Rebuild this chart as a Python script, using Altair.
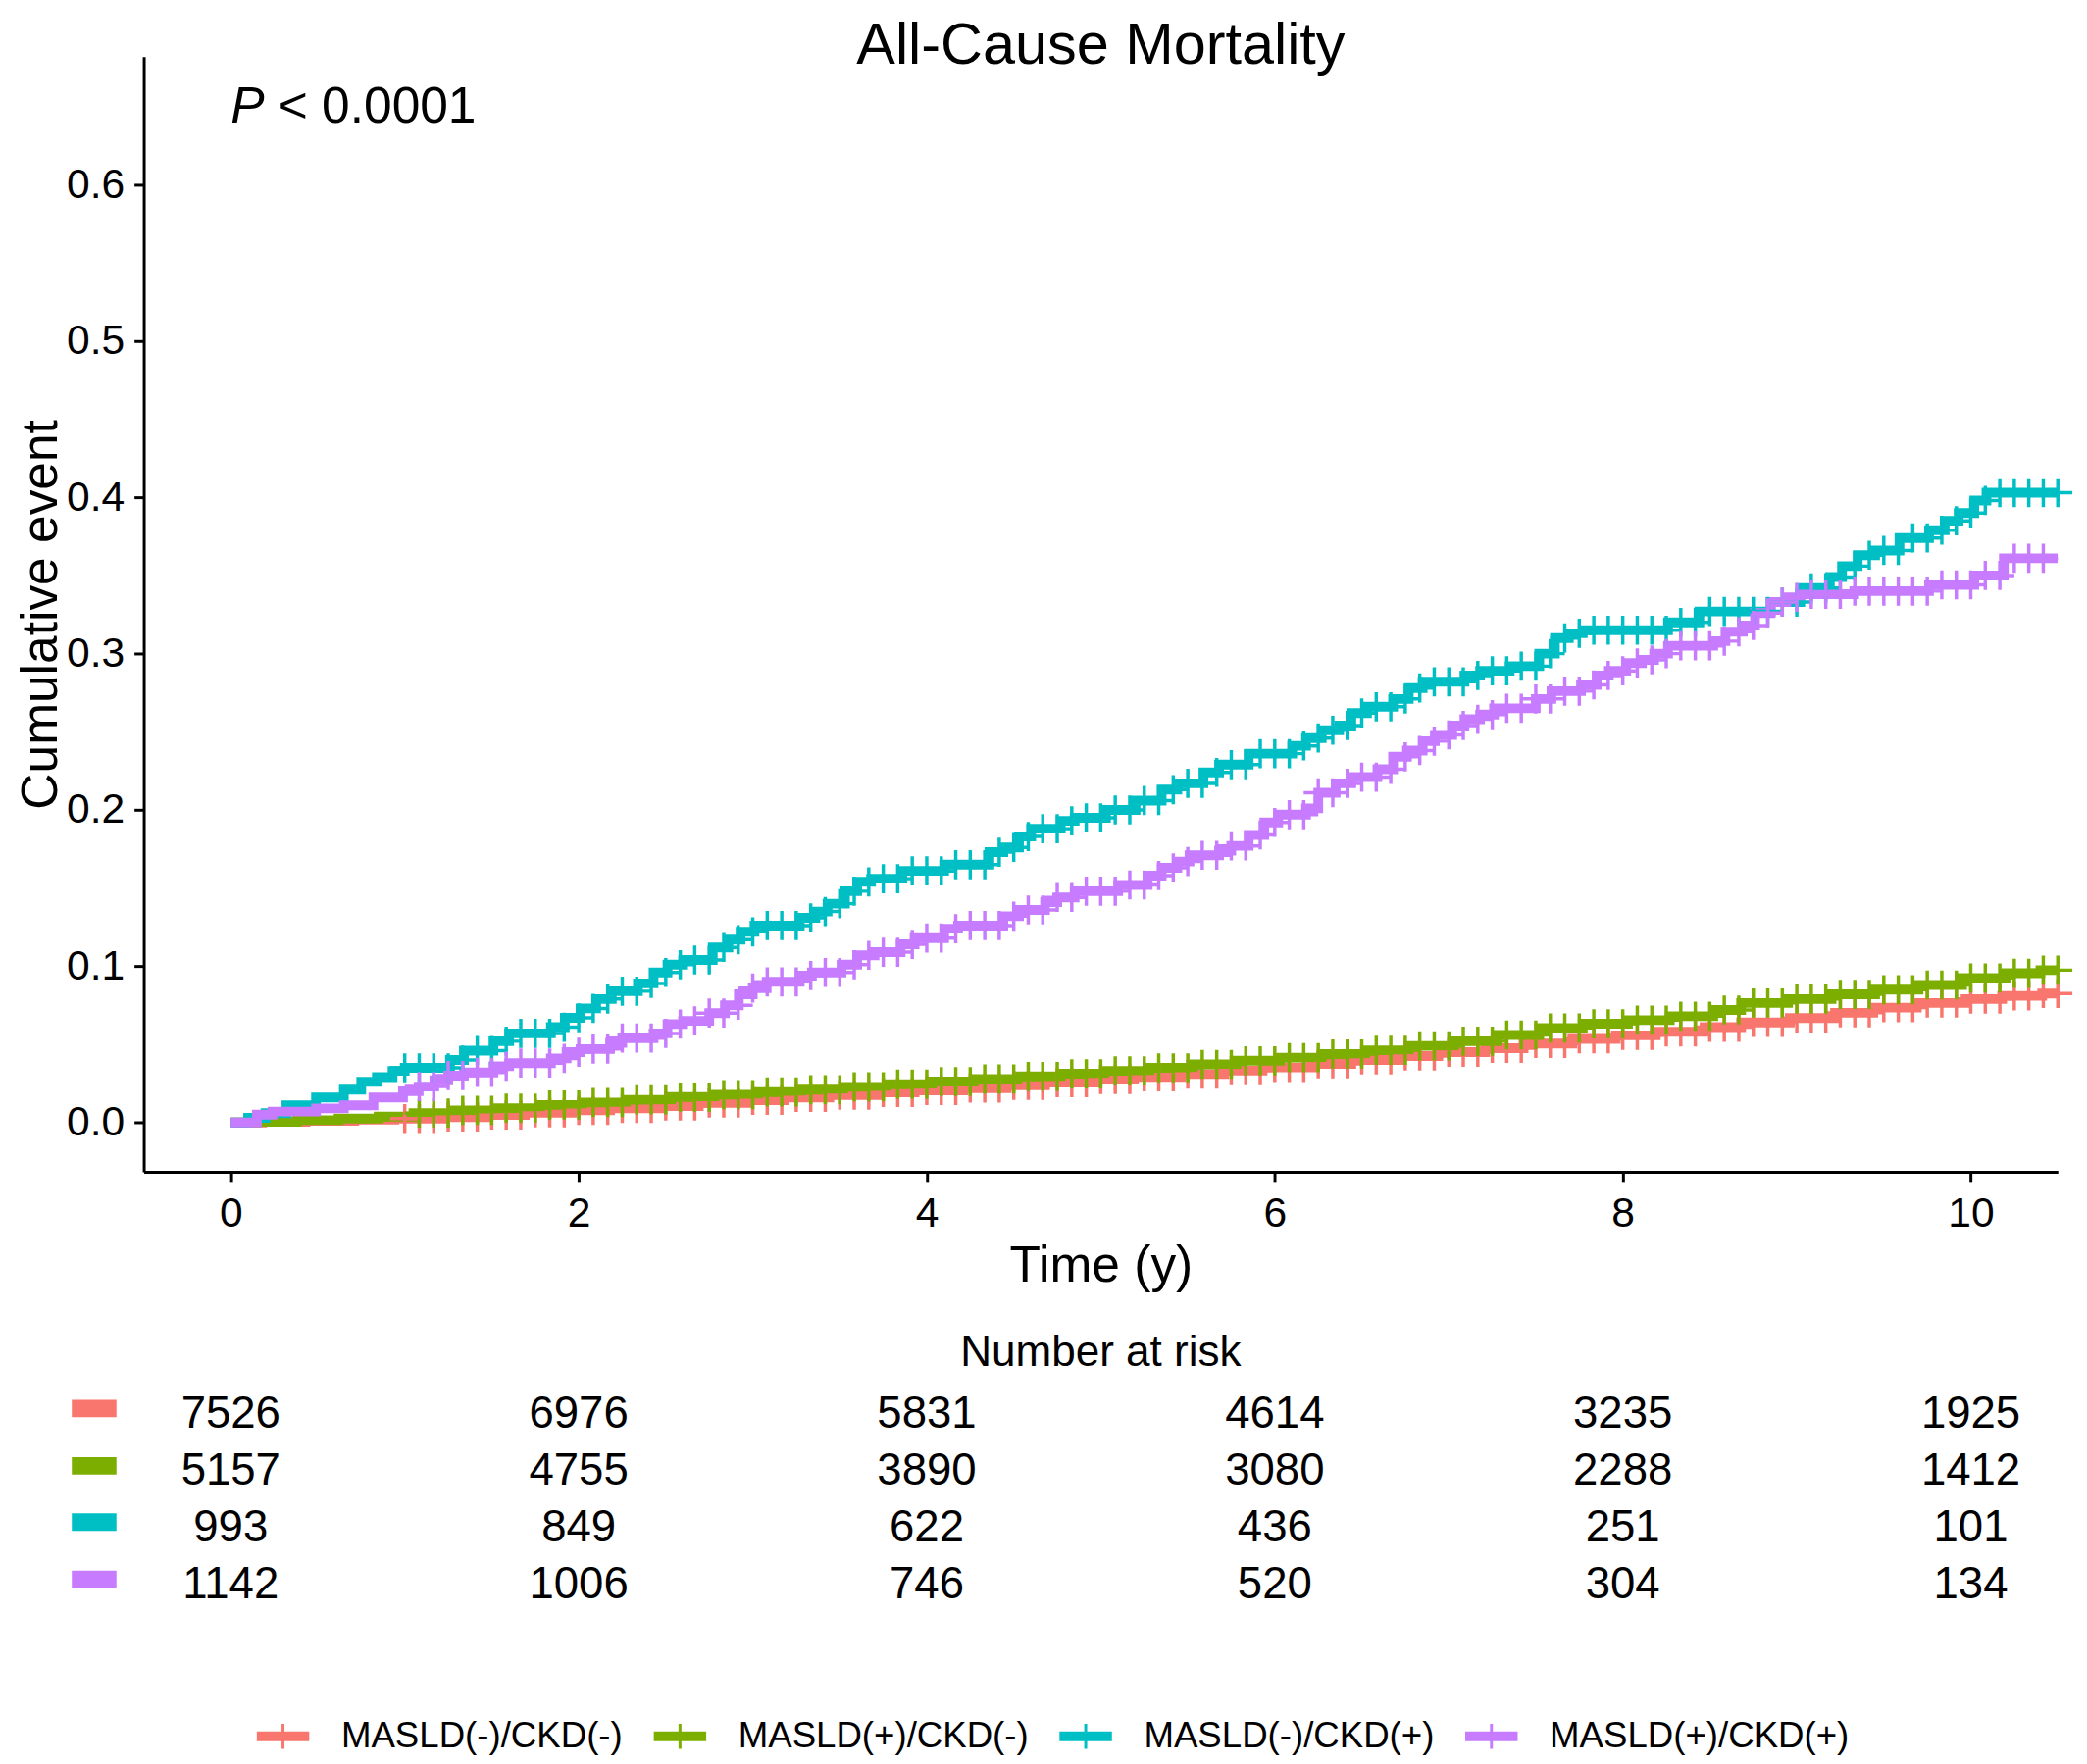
import altair as alt
import numpy as np
import pandas as pd

FONT = "Liberation Sans"

GROUPS = ["MASLD(-)/CKD(-)", "MASLD(+)/CKD(-)", "MASLD(-)/CKD(+)", "MASLD(+)/CKD(+)"]
COLORS = ["#F8766D", "#7CAE00", "#00BFC4", "#C77CFF"]

# ---- step curves (time in years, cumulative event) ----
T_NN = [0.0, 0.18, 0.43, 0.71, 0.94, 1.22, 1.47, 1.69, 1.96, 2.18, 2.47, 2.69, 2.97, 3.18, 3.44,
        3.72, 3.93, 4.21, 4.46, 4.68, 4.97, 5.19, 5.46, 5.71, 5.93, 6.22, 6.44, 6.72, 6.94, 7.21,
        7.43, 7.71, 7.96, 8.19, 8.47, 8.68, 8.96, 9.22, 9.44, 9.69, 9.97, 10.18, 10.41, 10.5]
V_NN = [0.0, 0.0005, 0.001, 0.0018, 0.0025, 0.0035, 0.0048, 0.0062, 0.0078, 0.009, 0.0105, 0.0125,
        0.0142, 0.016, 0.0175, 0.0192, 0.0205, 0.022, 0.0238, 0.0255, 0.0275, 0.0292, 0.031, 0.0332,
        0.0352, 0.0375, 0.040, 0.0425, 0.045, 0.0475, 0.0505, 0.0535, 0.0558, 0.058, 0.061, 0.064,
        0.0668, 0.0702, 0.0735, 0.0765, 0.079, 0.081, 0.0825, 0.0825]

T_PN = [0.0, 0.15, 0.38, 0.62, 0.85, 1.05, 1.27, 1.52, 1.78, 2.02, 2.27, 2.53, 2.78, 3.03, 3.28,
        3.52, 3.77, 4.03, 4.27, 4.52, 4.77, 5.02, 5.28, 5.53, 5.78, 6.03, 6.27, 6.52, 6.77, 7.03,
        7.28, 7.52, 7.77, 8.03, 8.27, 8.52, 8.68, 8.95, 9.2, 9.45, 9.7, 9.95, 10.2, 10.4, 10.5]
V_PN = [0.0, 0.0005, 0.0015, 0.0025, 0.0038, 0.006, 0.0078, 0.0092, 0.0112, 0.0128, 0.0145, 0.0163,
        0.0178, 0.0195, 0.021, 0.0228, 0.0245, 0.0262, 0.0278, 0.0295, 0.0312, 0.033, 0.035, 0.0372,
        0.0395, 0.0415, 0.0438, 0.0462, 0.049, 0.052, 0.056, 0.0605, 0.0632, 0.0655, 0.068, 0.072,
        0.0765, 0.079, 0.082, 0.085, 0.088, 0.0925, 0.0955, 0.0975, 0.0975]

T_NP = [0.0, 0.1, 0.2, 0.32, 0.49, 0.65, 0.75, 0.84, 0.93, 1.0, 1.26, 1.34, 1.51, 1.6, 1.84, 1.92,
        2.01, 2.10, 2.19, 2.34, 2.43, 2.51, 2.60, 2.77, 2.86, 2.93, 3.01, 3.27, 3.36, 3.43, 3.53,
        3.60, 3.68, 3.86, 4.10, 4.36, 4.44, 4.53, 4.60, 4.77, 4.85, 5.03, 5.2, 5.35, 5.44, 5.59,
        5.68, 5.85, 6.10, 6.18, 6.27, 6.37, 6.44, 6.53, 6.68, 6.77, 6.85, 7.09, 7.18, 7.35, 7.52,
        7.61, 7.69, 7.77, 8.26, 8.44, 8.85, 9.02, 9.19, 9.26, 9.35, 9.45, 9.59, 9.76, 9.85, 9.93,
        10.02, 10.09, 10.5]
V_NP = [0.0, 0.003, 0.006, 0.011, 0.016, 0.021, 0.026, 0.029, 0.033, 0.035, 0.040, 0.046, 0.052,
        0.057, 0.061, 0.067, 0.073, 0.079, 0.084, 0.089, 0.096, 0.101, 0.104, 0.112, 0.117, 0.122,
        0.126, 0.131, 0.135, 0.140, 0.148, 0.154, 0.156, 0.161, 0.165, 0.173, 0.176, 0.183, 0.188,
        0.193, 0.195, 0.200, 0.206, 0.213, 0.217, 0.224, 0.229, 0.236, 0.241, 0.246, 0.251, 0.254,
        0.262, 0.266, 0.271, 0.278, 0.282, 0.286, 0.289, 0.292, 0.300, 0.310, 0.313, 0.315, 0.320,
        0.327, 0.333, 0.342, 0.349, 0.356, 0.363, 0.366, 0.374, 0.379, 0.385, 0.390, 0.398, 0.403,
        0.403]

T_PP = [0.0, 0.15, 0.24, 0.49, 0.65, 0.82, 0.99, 1.08, 1.17, 1.25, 1.34, 1.51, 1.6, 1.84, 1.93,
        2.01, 2.18, 2.25, 2.43, 2.51, 2.60, 2.75, 2.84, 2.92, 3.0, 3.08, 3.27, 3.34, 3.51, 3.60,
        3.70, 3.85, 3.93, 4.10, 4.18, 4.44, 4.53, 4.68, 4.75, 4.85, 5.10, 5.27, 5.35, 5.44, 5.51,
        5.68, 5.75, 5.85, 5.94, 6.02, 6.18, 6.25, 6.35, 6.44, 6.59, 6.68, 6.76, 6.85, 6.92, 7.02,
        7.09, 7.18, 7.26, 7.50, 7.59, 7.76, 7.85, 7.92, 8.02, 8.11, 8.18, 8.26, 8.52, 8.59, 8.69,
        8.76, 8.85, 8.94, 9.02, 9.33, 9.76, 10.02, 10.19, 10.5]
V_PP = [0.0, 0.005, 0.007, 0.009, 0.011, 0.016, 0.020, 0.023, 0.027, 0.030, 0.032, 0.036, 0.038,
        0.041, 0.045, 0.047, 0.051, 0.054, 0.057, 0.063, 0.065, 0.070, 0.075, 0.082, 0.086, 0.090,
        0.094, 0.096, 0.101, 0.107, 0.109, 0.114, 0.118, 0.124, 0.126, 0.132, 0.136, 0.141, 0.144,
        0.148, 0.152, 0.158, 0.163, 0.167, 0.171, 0.174, 0.177, 0.184, 0.192, 0.197, 0.201, 0.211,
        0.217, 0.221, 0.226, 0.234, 0.238, 0.244, 0.248, 0.254, 0.258, 0.261, 0.265, 0.271, 0.276,
        0.280, 0.286, 0.289, 0.294, 0.296, 0.300, 0.305, 0.308, 0.314, 0.318, 0.326, 0.333, 0.336,
        0.338, 0.340, 0.344, 0.350, 0.361, 0.361]

# censoring marks: months at which "+" marks appear
CENSOR_MONTHS = [12, 13, 14, 15, 16, 17, 18, 19, 20, 21, 22, 23, 24, 25, 26, 27, 28, 29, 30, 31,
                 32, 33, 34, 35, 36, 37, 38, 39, 40, 41, 42, 43, 44, 45, 46, 47, 48, 49, 50, 51,
                 52, 53, 54, 55, 56, 57, 58, 59, 60, 61, 62, 63, 64, 65, 66, 67, 68, 69, 70, 71,
                 72, 73, 74, 75, 76, 77, 78, 79, 80, 81, 82, 83, 84, 85, 86, 87, 88, 89, 90, 91,
                 92, 93, 94, 95, 96, 97, 98, 99, 100, 101, 102, 103, 104, 105, 106, 107, 108, 109,
                 110, 111, 112, 113, 114, 115, 116, 117, 118, 119, 120, 121, 122, 123, 124, 125, 126]
CENSOR_FIRST = [12, 13, 12, 13]
CENSOR_LAST = [126, 126, 126, 125]

# number at risk table
RISK_TIMES = [0, 2, 4, 6, 8, 10]
RISK_NN = [7526, 6976, 5831, 4614, 3235, 1925]
RISK_PN = [5157, 4755, 3890, 3080, 2288, 1412]
RISK_NP = [993, 849, 622, 436, 251, 101]
RISK_PP = [1142, 1006, 746, 520, 304, 134]

X_TICKS = [0, 2, 4, 6, 8, 10]
Y_TICKS = [0.0, 0.1, 0.2, 0.3, 0.4, 0.5, 0.6]

# ---- build tables ----
curves = [(T_NN, V_NN), (T_PN, V_PN), (T_NP, V_NP), (T_PP, V_PP)]
rows, crow = [], []
for g, (T, V), lo, hi in zip(GROUPS, curves, CENSOR_FIRST, CENSOR_LAST):
    for t, v in zip(T, V):
        rows.append({"group": g, "time": t, "cum": v})
    Ta = np.array(T)
    for m in CENSOR_MONTHS:
        if lo <= m <= hi:
            t = m / 12.0
            idx = int(np.searchsorted(Ta, t, side="right") - 1)
            crow.append({"group": g, "time": t, "cum": V[idx]})
curve_df = pd.DataFrame(rows)
censor_df = pd.DataFrame(crow)

risk_rows = []
for g, counts in zip(GROUPS, [RISK_NN, RISK_PN, RISK_NP, RISK_PP]):
    for t, n in zip(RISK_TIMES, counts):
        risk_rows.append({"group": g, "time": t, "n": str(n)})
risk_df = pd.DataFrame(risk_rows)

pval_df = pd.DataFrame({"time": [0.0], "cum": [0.65], "p": ["P"], "rest": ["< 0.0001"]})

# ---- scales / encodings ----
W = 1972
x_scale = alt.Scale(domain=[-0.5, 10.5], nice=False, zero=False)
y_scale = alt.Scale(domain=[-0.0315, 0.682], nice=False, zero=False)

x_enc = alt.X("time:Q", scale=x_scale,
              axis=alt.Axis(values=X_TICKS, title="Time (y)", grid=False,
                            labelFontSize=43, labelFont=FONT, labelColor="black",
                            labelPadding=12, tickSize=10, tickWidth=3, tickColor="black",
                            domainWidth=3, domainColor="black",
                            titleFontSize=52, titleFont=FONT, titleFontWeight="normal",
                            titleColor="black", titlePadding=7, labelFlush=False))
y_enc = alt.Y("cum:Q", scale=y_scale,
              axis=alt.Axis(values=Y_TICKS, format=".1f", title="Cumulative event", grid=False,
                            labelFontSize=43, labelFont=FONT, labelColor="black",
                            labelPadding=10, tickSize=10, tickWidth=3, tickColor="black",
                            domainWidth=3, domainColor="black",
                            titleFontSize=52, titleFont=FONT, titleFontWeight="normal",
                            titleColor="black", titlePadding=-1, labelFlush=False))

LEGEND_PATH = ("M-2,-0.26L2,-0.26M-2,-0.13L2,-0.13M-2,0L2,0M-2,0.13L2,0.13M-2,0.26L2,0.26"
               "M0,-0.96L0,0.96")
color_enc = alt.Color("group:N", scale=alt.Scale(domain=GROUPS, range=COLORS),
                      legend=alt.Legend(title=None, orient="none", legendX=125, legendY=1712,
                                        direction="horizontal", columns=4,
                                        symbolType=LEGEND_PATH, symbolSize=729,
                                        symbolStrokeWidth=3, symbolOpacity=1,
                                        labelFontSize=37, labelFont=FONT, labelColor="black",
                                        labelOffset=41.5, columnPadding=25, labelLimit=800,
                                        padding=0))

lines = alt.Chart(curve_df).mark_line(interpolate="step-after", strokeWidth=10, clip=True).encode(
    x=x_enc, y=y_enc, color=color_enc)

censor = alt.Chart(censor_df).mark_point(shape="M-1,0L1,0M0,-1L0,1", size=900, filled=False,
                                         strokeWidth=3.5, opacity=1).encode(
    x=x_enc, y=y_enc, color=color_enc)

p_italic = alt.Chart(pval_df).mark_text(align="left", baseline="middle", fontSize=52,
                                        fontStyle="italic", font=FONT, color="black").encode(
    x=x_enc, y=y_enc, text="p:N")
p_rest = alt.Chart(pval_df).mark_text(align="left", baseline="middle", fontSize=52, dx=49,
                                      font=FONT, color="black").encode(
    x=x_enc, y=y_enc, text="rest:N")

main = alt.layer(lines, censor, p_italic, p_rest).properties(
    width=W, height=1149,
    title=alt.TitleParams("All-Cause Mortality", fontSize=60, font=FONT, fontWeight="normal",
                          color="black", anchor="middle", frame="group",
                          baseline="alphabetic", offset=-67))

tick_cond = {"condition": [{"test": "datum.value === '%s'" % g, "value": c}
                           for g, c in zip(GROUPS, COLORS)],
             "value": "black"}

risk = alt.Chart(risk_df).mark_text(fontSize=46, baseline="middle", align="center",
                                    font=FONT, color="black").encode(
    x=alt.X("time:Q", scale=x_scale, axis=None),
    y=alt.Y("group:N", scale=alt.Scale(type="point", domain=GROUPS, padding=0.5),
            axis=alt.Axis(title=None, labels=False, domain=False, grid=False,
                          tickSize=46, tickWidth=18, tickColor=tick_cond, offset=28.6,
                          tickOffset=-6)),
    text="n:N").properties(
    width=W, height=234,
    title=alt.TitleParams("Number at risk", fontSize=44.5, font=FONT, fontWeight="normal",
                          color="black", anchor="middle", frame="group",
                          baseline="alphabetic", offset=-24))

chart = alt.vconcat(main, risk, spacing=220.5, bounds="flush").properties(
    padding={"left": 8, "top": 0, "right": 0, "bottom": 0},
    background="white"
).configure(font=FONT).configure_view(stroke=None)

chart.save("out.html", embed_options={"renderer": "svg", "actions": False})
